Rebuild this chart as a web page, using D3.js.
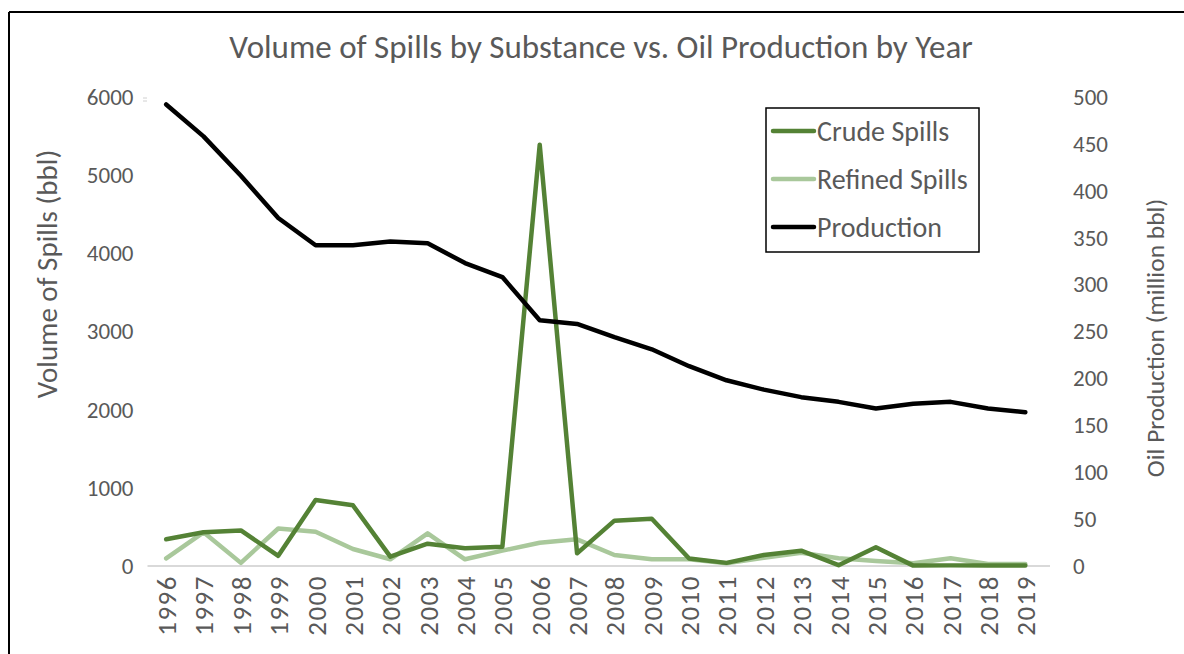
<!DOCTYPE html>
<html>
<head>
<meta charset="utf-8">
<script src="https://cdn.jsdelivr.net/npm/d3@7"></script>
<style>
  html, body { margin: 0; padding: 0; background: #fff; }
  svg { display: block; }
  text { font-family: Carlito, Calibri, Lato, "Open Sans", sans-serif; }
</style>
</head>
<body>
<svg id="chart" width="1184" height="654"></svg>
<script>
const years = ["1996","1997","1998","1999","2000","2001","2002","2003","2004","2005","2006","2007","2008","2009","2010","2011","2012","2013","2014","2015","2016","2017","2018","2019"];
const crudeSpills = [342, 431, 455, 130, 844, 776, 119, 285, 226, 245, 5390, 162, 580, 605, 95, 40, 141, 196, 10, 239, 5, 8, 5, 5];
const refinedSpills = [98, 431, 40, 480, 439, 217, 86, 418, 86, 196, 298, 341, 141, 86, 86, 35, 106, 170, 98, 64, 34, 98, 25, 25];
const production = [492, 458, 416, 371, 342, 342, 346, 344, 323, 308, 262, 258, 244, 231, 213, 198, 188, 180, 175, 168, 173, 175, 168, 164];
const leftTicks = [0, 1000, 2000, 3000, 4000, 5000, 6000];
const rightTicks = [0, 50, 100, 150, 200, 250, 300, 350, 400, 450, 500];
const seriesNames = ["Crude Spills", "Refined Spills", "Production"];
const seriesColors = ["#548235", "#a9c89b", "#000000"];
const title = "Volume of Spills by Substance vs. Oil Production by Year";
const leftTitle = "Volume of Spills (bbl)";
const rightTitle = "Oil Production (million bbl)";

const svg = d3.select("#chart");
const textColor = "#595959";
const ff = "Carlito, Calibri, Lato, sans-serif";

// chart frame
svg.append("line").attr("x1", 9).attr("x2", 1184).attr("y1", 12).attr("y2", 12).attr("stroke", "#000").attr("stroke-width", 2);
svg.append("line").attr("x1", 9).attr("x2", 9).attr("y1", 12).attr("y2", 654).attr("stroke", "#000").attr("stroke-width", 2);

const plot = { left: 147.5, right: 1044, top: 97, bottom: 566 };

const x = d3.scalePoint().domain(years).range([plot.left, plot.right]).padding(0.5);
const yL = d3.scaleLinear().domain([0, 6000]).range([plot.bottom, plot.top]);
const yR = d3.scaleLinear().domain([0, 500]).range([plot.bottom, plot.top]);

// title
svg.append("text").attr("x", 601).attr("y", 58).attr("text-anchor", "middle")
  .attr("font-size", 33).attr("fill", textColor).text(title);

// left axis
const axL = svg.append("g").attr("transform", `translate(${plot.left - 14},0)`)
  .call(d3.axisLeft(yL).tickValues(leftTicks).tickSize(0).tickPadding(0).tickFormat(d3.format("d")));
axL.select(".domain").remove();
axL.selectAll("text").attr("font-size", 23).attr("fill", textColor).attr("font-family", ff);

// right axis
const axR = svg.append("g").attr("transform", `translate(${plot.right + 29},0)`)
  .call(d3.axisRight(yR).tickValues(rightTicks).tickSize(0).tickPadding(0).tickFormat(d3.format("d")));
axR.select(".domain").remove();
axR.selectAll("text").attr("font-size", 23).attr("fill", textColor).attr("font-family", ff);

// small artifact marks near top-left
svg.append("line").attr("x1", 143).attr("x2", 147).attr("y1", 98).attr("y2", 98).attr("stroke", "#d0d0d0").attr("stroke-width", 1);
svg.append("line").attr("x1", 143).attr("x2", 147).attr("y1", 101).attr("y2", 101).attr("stroke", "#d0d0d0").attr("stroke-width", 1);

// x axis baseline
svg.append("line").attr("x1", plot.left).attr("x2", plot.right + 6).attr("y1", plot.bottom).attr("y2", plot.bottom)
  .attr("stroke", "#d9d9d9").attr("stroke-width", 2);

// x axis labels
const axX = svg.append("g").attr("transform", `translate(0,${plot.bottom + 9})`)
  .call(d3.axisBottom(x).tickSize(0).tickPadding(0));
axX.select(".domain").remove();
axX.selectAll("text")
  .attr("font-size", 27).attr("letter-spacing", 1.5).attr("fill", textColor).attr("font-family", ff)
  .attr("text-anchor", "end").attr("dy", "0.35em").attr("dx", 0).attr("y", 0)
  .attr("transform", "rotate(-90)");

// axis titles
svg.append("text").attr("transform", `translate(57,274) rotate(-90)`).attr("text-anchor", "middle")
  .attr("font-size", 29).attr("fill", textColor).text(leftTitle);
svg.append("text").attr("transform", `translate(1164,338) rotate(-90)`).attr("text-anchor", "middle")
  .attr("font-size", 25.5).attr("fill", textColor).text(rightTitle);

// lines
const lineL = d3.line().x((d, i) => x(years[i])).y(d => yL(d));
const lineR = d3.line().x((d, i) => x(years[i])).y(d => yR(d));

svg.append("path").datum(refinedSpills).attr("d", lineL).attr("fill", "none")
  .attr("stroke", seriesColors[1]).attr("stroke-width", 4.5).attr("stroke-linejoin", "round").attr("stroke-linecap", "round");
svg.append("path").datum(crudeSpills).attr("d", lineL).attr("fill", "none")
  .attr("stroke", seriesColors[0]).attr("stroke-width", 4.5).attr("stroke-linejoin", "round").attr("stroke-linecap", "round");
svg.append("path").datum(production).attr("d", lineR).attr("fill", "none")
  .attr("stroke", seriesColors[2]).attr("stroke-width", 4.5).attr("stroke-linejoin", "round").attr("stroke-linecap", "round");

// legend
const lg = svg.append("g");
lg.append("rect").attr("x", 766).attr("y", 108).attr("width", 213).attr("height", 144)
  .attr("fill", "#fff").attr("stroke", "#000").attr("stroke-width", 1.5);
seriesNames.forEach((name, i) => {
  const yy = 131 + i * 48;
  lg.append("line").attr("x1", 773).attr("x2", 814).attr("y1", yy).attr("y2", yy)
    .attr("stroke", seriesColors[i]).attr("stroke-width", 4.5).attr("stroke-linecap", "round");
  lg.append("text").attr("x", 817).attr("y", yy).attr("dy", "0.35em")
    .attr("font-size", 28).attr("fill", textColor).text(name);
});
</script>
</body>
</html>
